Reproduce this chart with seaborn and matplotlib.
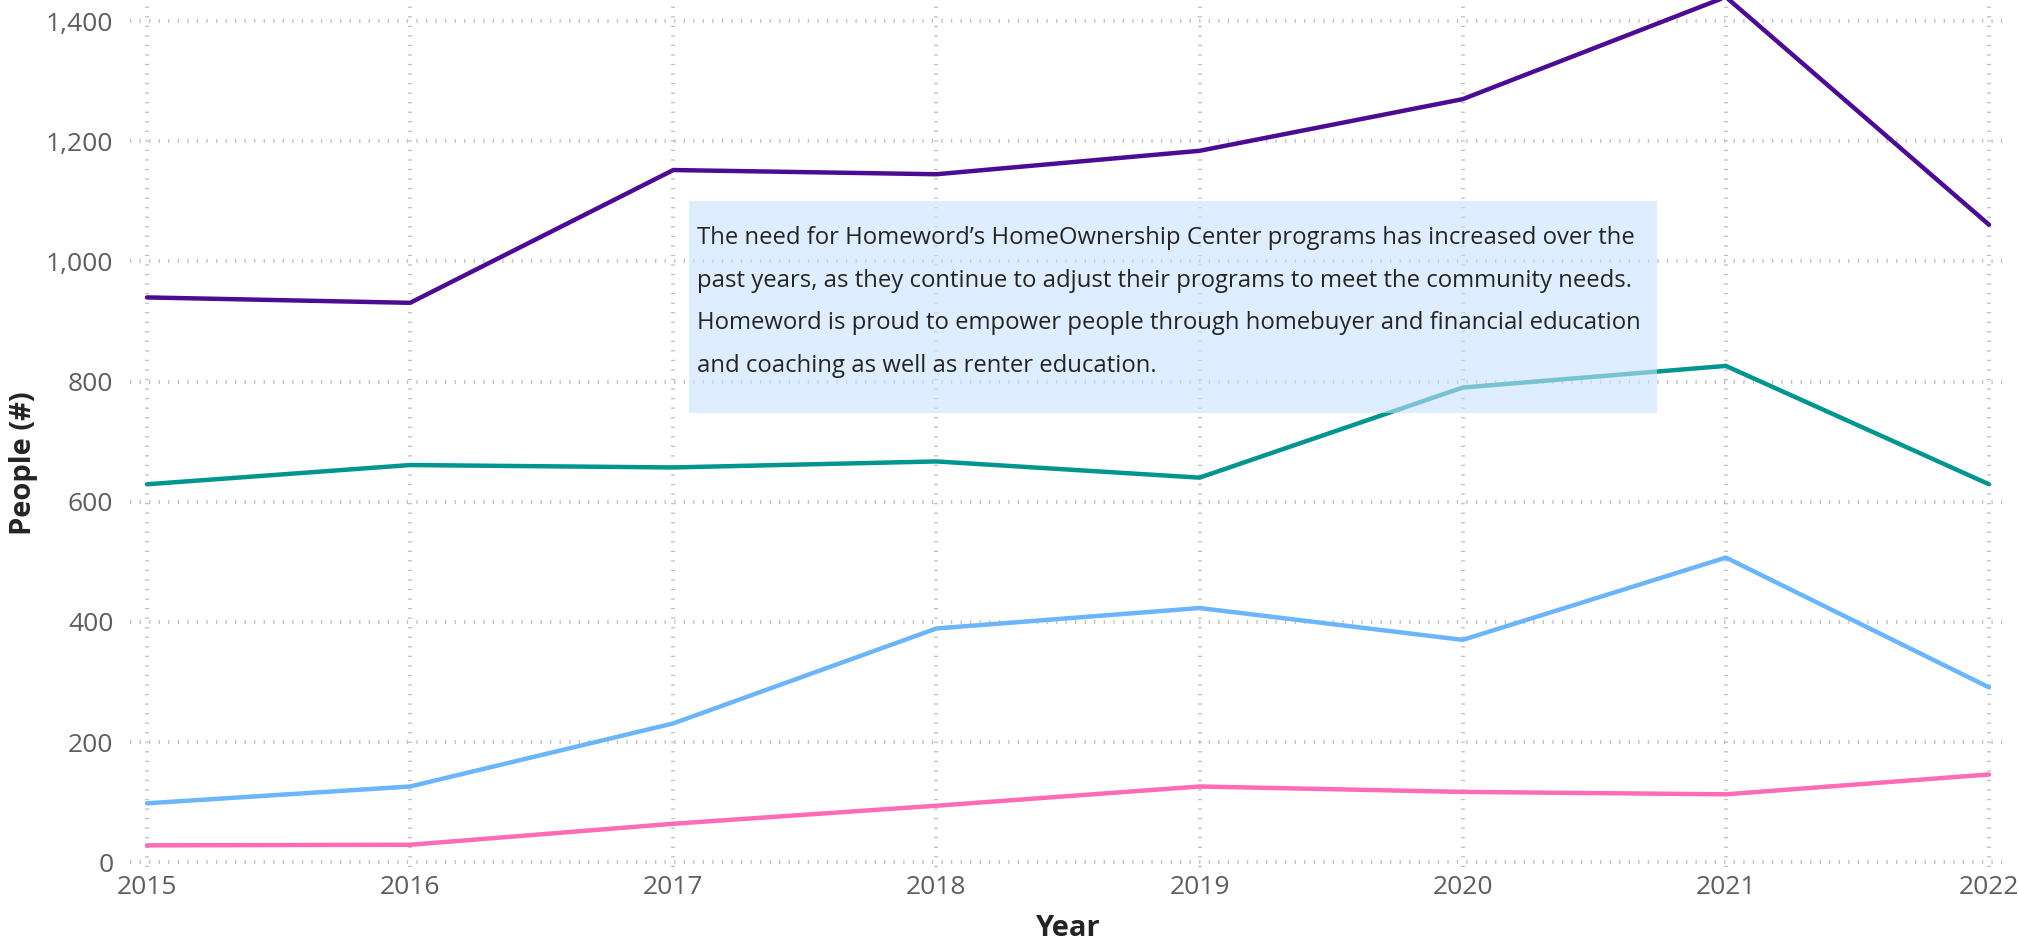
import pandas as pd
import matplotlib
import matplotlib.pyplot as plt
import matplotlib.patches as mpatches
import seaborn as sns

# ------------------------------------------------------------
# Data
# ------------------------------------------------------------
years = [2015, 2016, 2017, 2018, 2019, 2020, 2021, 2022]
series_names = ["Total", "Series 2", "Series 3", "Series 4"]
total = [940, 931, 1152, 1145, 1184, 1270, 1440, 1061]
series_2 = [629, 661, 657, 667, 640, 790, 826, 629]
series_3 = [98, 126, 231, 389, 423, 370, 507, 291]
series_4 = [28, 29, 64, 94, 126, 117, 113, 146]
colors = ["#4b0b93", "#01958f", "#6bb5fc", "#ff6bb5"]
y_ticks = [0, 200, 400, 600, 800, 1000, 1200, 1400]
note = ("The need for Homeword\u2019s HomeOwnership Center programs has increased over the\n"
        "past years, as they continue to adjust their programs to meet the community needs.\n"
        "Homeword is proud to empower people through homebuyer and financial education\n"
        "and coaching as well as renter education.")

df = pd.DataFrame({
    "Year": years * 4,
    "People": total + series_2 + series_3 + series_4,
    "Series": [n for n in series_names for _ in years],
})

sns.set_theme(style="white")
matplotlib.rcParams["font.family"] = ["Open Sans", "DejaVu Sans"]

W, H = 2019, 944
fig = plt.figure(figsize=(W / 100, H / 100), dpi=100)
fig.patch.set_facecolor("white")
ax = fig.add_axes([130 / W, 1 - 867 / H, (2002 - 130) / W, 867 / H])
ax.set_facecolor("white")

sns.lineplot(data=df, x="Year", y="People", hue="Series",
             palette=dict(zip(series_names, colors)),
             linewidth=3.2, legend=False, ax=ax)
for ln in ax.lines:
    ln.set_solid_capstyle("round")
    ln.set_solid_joinstyle("round")

ax.set_xlim(2015 - 17 / 263.1, 2022 + 13 / 263.1)
ax.set_ylim(-8, 1435)
ax.set_xticks(years)
ax.set_xticklabels([str(y) for y in years])
ax.set_yticks(y_ticks)
ax.set_yticklabels([f"{v:,}" for v in y_ticks])

for s in ax.spines.values():
    s.set_visible(False)
ax.tick_params(length=0, labelsize=19, labelcolor="#605e5c")
ax.tick_params(axis="y", pad=12)
ax.tick_params(axis="x", pad=6)
ax.set_xlabel("")
ax.set_ylabel("")

ax.set_axisbelow(True)
ax.grid(True, axis="both", color="#c3c1bf", linewidth=2.9,
        linestyle=(0, (0.32, 2.05)))

# axis titles
fig.text(23 / W, 1 - 463 / H, "People (#)", rotation=90, ha="center", va="center",
         fontsize=21, fontweight="bold", color="#252423")
fig.text(1067 / W, 1 - 928 / H, "Year", ha="center", va="center",
         fontsize=21, fontweight="bold", color="#252423")

# semi-transparent note box on top of the lines
box = mpatches.Rectangle((689 / W, 1 - 413 / H), (1657 - 689) / W, (413 - 201) / H,
                         transform=fig.transFigure, facecolor="#c8e2ff", alpha=0.6,
                         edgecolor="none", zorder=10)
fig.add_artist(box)
fig.text(697 / W, 1 - 226 / H, note, ha="left", va="top", fontsize=17.2,
         color="#252423", linespacing=2.03, zorder=11)

plt.savefig("out.png", dpi=100, facecolor="white")
plt.close()
